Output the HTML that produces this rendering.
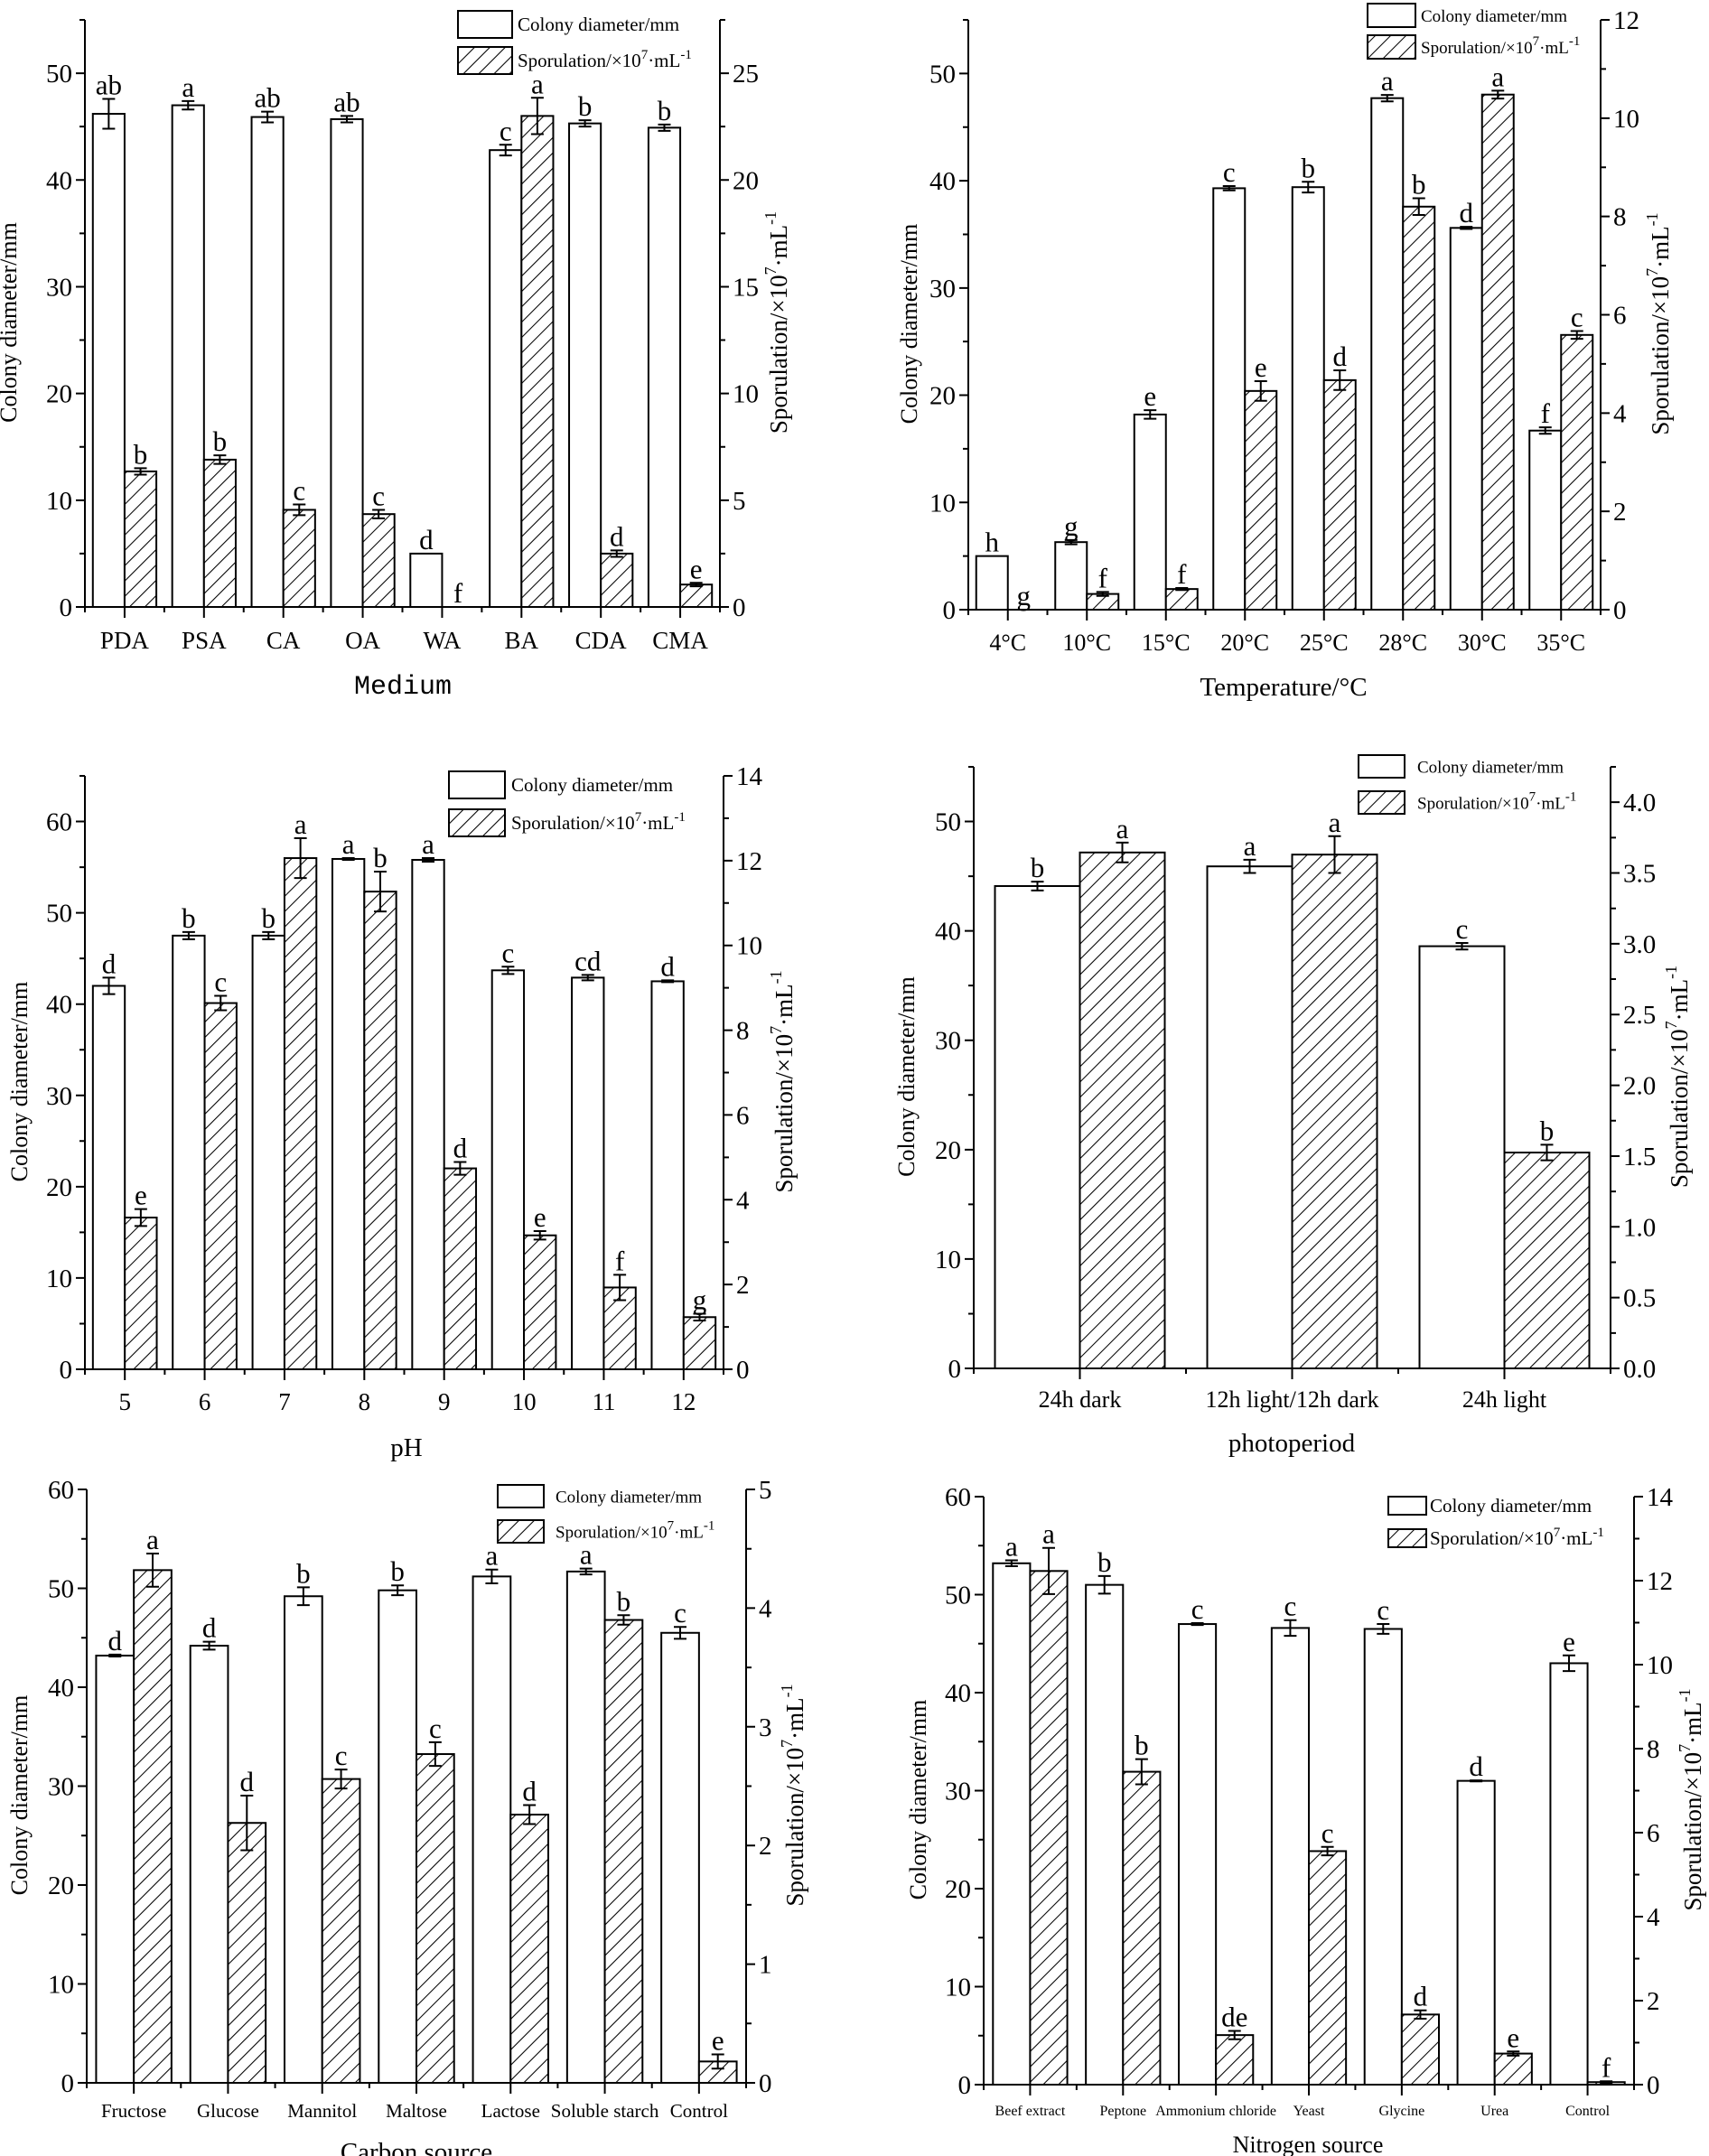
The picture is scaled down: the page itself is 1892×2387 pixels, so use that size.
<!DOCTYPE html>
<html><head><meta charset="utf-8">
<style>
html,body{margin:0;padding:0;background:#fff;}
svg{display:block;}
text{font-family:"Liberation Serif",serif;fill:#000;}
</style></head>
<body>
<svg id="fig" width="1892" height="2387" viewBox="0 0 1892 2387" xmlns="http://www.w3.org/2000/svg">
<defs>
<pattern id="hatch" patternUnits="userSpaceOnUse" width="12" height="12" patternTransform="rotate(45)">
<rect width="12" height="12" fill="#fff"/>
<line x1="0" y1="0" x2="0" y2="12" stroke="#000" stroke-width="2.1"/>
</pattern>
</defs>
</svg>
<script>
// ---- Panel A: Medium ----
const medCats=["PDA","PSA","CA","OA","WA","BA","CDA","CMA"];
const medColony=[46.2,47.0,45.9,45.7,5.0,42.8,45.3,44.9];
const medColonyErr=[1.4,0.4,0.5,0.3,0,0.5,0.3,0.3];
const medColonyLetters=["ab","a","ab","ab","d","c","b","b"];
const medSpor=[6.35,6.9,4.55,4.35,0,23.0,2.5,1.05];
const medSporErr=[0.15,0.2,0.25,0.2,0,0.85,0.15,0.08];
const medSporLetters=["b","b","c","c","f","a","d","e"];
// ---- Panel B: Temperature ----
const tempCats=["4°C","10°C","15°C","20°C","25°C","28°C","30°C","35°C"];
const tempColony=[5.0,6.3,18.2,39.3,39.4,47.7,35.6,16.7];
const tempColonyErr=[0,0.2,0.4,0.2,0.5,0.3,0.1,0.3];
const tempColonyLetters=["h","g","e","c","b","a","d","f"];
const tempSpor=[0,0.32,0.42,4.45,4.67,8.2,10.48,5.59];
const tempSporErr=[0,0.04,0.02,0.2,0.2,0.17,0.08,0.08];
const tempSporLetters=["g","f","f","e","d","b","a","c"];
// ---- Panel C: pH ----
const phCats=["5","6","7","8","9","10","11","12"];
const phColony=[42.0,47.5,47.5,55.9,55.8,43.7,42.9,42.5];
const phColonyErr=[0.9,0.4,0.4,0.1,0.2,0.4,0.3,0.1];
const phColonyLetters=["d","b","b","a","a","c","cd","d"];
const phSpor=[3.58,8.64,12.06,11.27,4.74,3.16,1.93,1.23];
const phSporErr=[0.2,0.17,0.47,0.47,0.15,0.1,0.3,0.08];
const phSporLetters=["e","c","a","b","d","e","f","g"];
// ---- Panel D: photoperiod ----
const photoCats=["24h dark","12h light/12h dark","24h light"];
const photoColony=[44.1,45.9,38.6];
const photoColonyErr=[0.4,0.6,0.3];
const photoColonyLetters=["b","a","c"];
const photoSpor=[3.645,3.63,1.525];
const photoSporErr=[0.07,0.13,0.055];
const photoSporLetters=["a","a","b"];
// ---- Panel E: Carbon source ----
const carbCats=["Fructose","Glucose","Mannitol","Maltose","Lactose","Soluble starch","Control"];
const carbColony=[43.2,44.2,49.2,49.8,51.2,51.7,45.5];
const carbColonyErr=[0.1,0.4,0.9,0.5,0.7,0.3,0.6];
const carbColonyLetters=["d","d","b","b","a","a","c"];
const carbSpor=[4.32,2.19,2.56,2.77,2.26,3.90,0.18];
const carbSporErr=[0.14,0.23,0.08,0.1,0.08,0.04,0.06];
const carbSporLetters=["a","d","c","c","d","b","e"];
// ---- Panel F: Nitrogen source ----
const nitCats=["Beef extract","Peptone","Ammonium chloride","Yeast","Glycine","Urea","Control"];
const nitColony=[53.2,51.0,47.0,46.6,46.5,31.0,43.0];
const nitColonyErr=[0.3,0.9,0.1,0.8,0.5,0.05,0.8];
const nitColonyLetters=["a","b","c","c","c","d","e"];
const nitSpor=[12.23,7.45,1.18,5.56,1.67,0.74,0.06];
const nitSporErr=[0.55,0.3,0.1,0.1,0.1,0.05,0.02];
const nitSporLetters=["a","b","de","c","d","e","f"];

const svg=document.getElementById('fig');
const NS="http://www.w3.org/2000/svg";
function mk(tag,attrs,parent){const e=document.createElementNS(NS,tag);for(const k in attrs)e.setAttribute(k,attrs[k]);(parent||svg).appendChild(e);return e;}

function fmt(v,dec){return dec?v.toFixed(dec):String(Math.round(v));}

function panel(p){
  const g=mk('g',{});
  
  
  const yL=v=>p.y0-(v/p.lmax)*(p.y0-p.yTop);
  const yR=v=>p.y0-(v/p.rmax)*(p.y0-p.yTop);
  const n=p.cats.length, band=(p.x1-p.x0)/n, bw=band*0.4;
  const cx=i=>p.x0+band*(i+0.5);
  for(let i=0;i<n;i++){
    const h1=p.y0-yL(p.colony[i]);
    const r1=mk('rect',{x:cx(i)-bw,y:yL(p.colony[i]),width:bw,height:h1,fill:'#fff',stroke:'#000','stroke-width':2},g);
    
    
    const h2=p.y0-yR(p.spor[i]);
    if(p.spor[i]>0){
      const r2=mk('rect',{x:cx(i),y:yR(p.spor[i]),width:bw,height:h2,fill:'url(#hatch)',stroke:'#000','stroke-width':2},g);
      
      
    }
    const eb=(x,v,e,yf)=>{
      if(e<=0) return yf(v);
      const t=yf(v+e),b=yf(Math.max(0,v-e));
      const pe=mk('path',{d:`M${x},${t}V${b}M${x-7},${t}H${x+7}M${x-7},${b}H${x+7}`,stroke:'#000','stroke-width':2,fill:'none'},g);
      
      
      return t;
    };
    const t1=eb(cx(i)-bw/2,p.colony[i],p.colonyErr[i],yL);
    const t2=eb(cx(i)+bw/2,p.spor[i],p.sporErr[i],yR);
    const l1=mk('text',{x:cx(i)-bw/2,y:t1-5,'font-size':p.lf,'text-anchor':'middle'},g);
    l1.textContent=p.colonyLetters[i];
    
    
    const l2=mk('text',{x:cx(i)+bw/2,y:t2-5,'font-size':p.lf,'text-anchor':'middle'},g);
    l2.textContent=p.sporLetters[i];
    
    
  }
  const ax=mk('path',{d:`M${p.x0},${p.yTop}V${p.y0}H${p.x1}V${p.yTop}`,stroke:'#000','stroke-width':2,fill:'none'},g);
  
  
  let d='';
  for(let v=0;v<=p.lmax+1e-9;v+=p.lminor){const y=yL(v);const major=Math.abs(v/p.lstep-Math.round(v/p.lstep))<1e-6;d+=`M${p.x0},${y}H${p.x0-(major?10:6)}`;
    if(major){const t=mk('text',{x:p.x0-14,y:y+10,'font-size':p.tf,'text-anchor':'end'},g);t.textContent=fmt(v,0);
      
      }}
  for(let v=0;v<=p.rmax+1e-9;v+=p.rminor){const y=yR(v);const major=Math.abs(v/p.rstep-Math.round(v/p.rstep))<1e-6;d+=`M${p.x1},${y}H${p.x1+(major?10:6)}`;
    if(major){const t=mk('text',{x:p.x1+14,y:y+10,'font-size':p.tf,'text-anchor':'start'},g);t.textContent=fmt(v,p.rdec);
      
      }}
  for(let i=0;i<=n;i++){const x=p.x0+band*i;d+=`M${x},${p.y0}V${p.y0+6}`;}
  for(let i=0;i<n;i++){d+=`M${cx(i)},${p.y0}V${p.y0+12}`;
    const t=mk('text',{x:cx(i),y:p.catY,'font-size':p.cf,'text-anchor':'middle'},g);t.textContent=p.cats[i];
    
    }
  const tk=mk('path',{d:d,stroke:'#000','stroke-width':2,fill:'none'},g);
  
  
  const midY=(p.yTop+p.y0)/2+10;
  const lt=mk('text',{x:p.lx,y:midY,'font-size':26,'text-anchor':'middle','dominant-baseline':'middle',transform:`rotate(-90 ${p.lx} ${midY})`},g);
  lt.textContent='Colony diameter/mm';
  
  
  const rt=mk('text',{x:p.rx,y:midY,'font-size':27,'text-anchor':'middle','dominant-baseline':'middle',transform:`rotate(-90 ${p.rx} ${midY})`},g);
  rt.innerHTML='Sporulation/×10<tspan dy="-10" font-size="18">7</tspan><tspan dy="10">·mL</tspan><tspan dy="-10" font-size="18">-1</tspan>';
  
  
  const xt=mk('text',{x:p.xtX,y:p.xtY,'font-size':p.xtF||29,'text-anchor':'middle'},g);
  if(p.mono) xt.setAttribute('style','font-family:"Liberation Mono",monospace');
  xt.textContent=p.xtitle;
  
  
  const L=p.leg;
  const lb1=mk('rect',{x:L.x,y:L.y1,width:L.w,height:L.h,fill:'#fff',stroke:'#000','stroke-width':2},g);
  
  
  const lb2=mk('rect',{x:L.x,y:L.y2,width:L.w,height:L.h,fill:'url(#hatch)',stroke:'#000','stroke-width':2},g);
  
  
  const lt1=mk('text',{x:L.tx,y:L.y1+L.h/2+7,'font-size':L.f},g);
  lt1.textContent='Colony diameter/mm';
  
  
  const lt2=mk('text',{x:L.tx,y:L.y2+L.h/2+7,'font-size':L.f},g);
  lt2.innerHTML='Sporulation/×10<tspan dy="-9" font-size="15">7</tspan><tspan dy="9">·mL</tspan><tspan dy="-9" font-size="15">-1</tspan>';
  
  
}

panel({name:'medium',x0:94,x1:797,yTop:22,y0:672,lmax:55,lstep:10,lminor:5,rmax:27.5,rstep:5,rminor:2.5,rdec:0,
  cats:medCats,colony:medColony,colonyErr:medColonyErr,colonyLetters:medColonyLetters,spor:medSpor,sporErr:medSporErr,sporLetters:medSporLetters,
  lf:31,tf:29,cf:27,catY:718,lx:12,rx:865,xtitle:'Medium',xtX:446,xtY:768,mono:true,xtF:30,
  leg:{x:507,y1:12,y2:52,w:60,h:30,tx:573,f:21}});
panel({name:'temperature',x0:1072,x1:1772,yTop:22,y0:675,lmax:55,lstep:10,lminor:5,rmax:12,rstep:2,rminor:1,rdec:0,
  cats:tempCats,colony:tempColony,colonyErr:tempColonyErr,colonyLetters:tempColonyLetters,spor:tempSpor,sporErr:tempSporErr,sporLetters:tempSporLetters,
  lf:31,tf:29,cf:26,catY:720,lx:1009,rx:1841,xtitle:'Temperature/°C',xtX:1421,xtY:770,
  leg:{x:1514,y1:4,y2:39,w:53,h:26,tx:1573,f:19}});
panel({name:'ph',x0:94,x1:801,yTop:859,y0:1516,lmax:65,lstep:10,lminor:5,rmax:14,rstep:2,rminor:1,rdec:0,
  cats:phCats,colony:phColony,colonyErr:phColonyErr,colonyLetters:phColonyLetters,spor:phSpor,sporErr:phSporErr,sporLetters:phSporLetters,
  lf:31,tf:29,cf:27,catY:1561,lx:24,rx:871,xtitle:'pH',xtX:450,xtY:1612,
  leg:{x:497,y1:854,y2:896,w:62,h:30,tx:566,f:21}});
panel({name:'photoperiod',x0:1078,x1:1783,yTop:849,y0:1515,lmax:55,lstep:10,lminor:5,rmax:4.25,rstep:0.5,rminor:0.25,rdec:1,
  cats:photoCats,colony:photoColony,colonyErr:photoColonyErr,colonyLetters:photoColonyLetters,spor:photoSpor,sporErr:photoSporErr,sporLetters:photoSporLetters,
  lf:31,tf:29,cf:26,catY:1558,lx:1006,rx:1862,xtitle:'photoperiod',xtX:1430,xtY:1607,
  leg:{x:1504,y1:836,y2:876,w:51,h:25,tx:1569,f:19}});
panel({name:'carbon-source',x0:96,x1:826,yTop:1649,y0:2306,lmax:60,lstep:10,lminor:5,rmax:5,rstep:1,rminor:0.5,rdec:0,
  cats:carbCats,colony:carbColony,colonyErr:carbColonyErr,colonyLetters:carbColonyLetters,spor:carbSpor,sporErr:carbSporErr,sporLetters:carbSporLetters,
  lf:31,tf:29,cf:21,catY:2344,lx:24,rx:883,xtitle:'Carbon source',xtX:461,xtY:2392,
  leg:{x:551,y1:1644,y2:1683,w:51,h:25,tx:615,f:19}});
panel({name:'nitrogen-source',x0:1089,x1:1809,yTop:1657,y0:2308,lmax:60,lstep:10,lminor:5,rmax:14,rstep:2,rminor:1,rdec:0,
  cats:nitCats,colony:nitColony,colonyErr:nitColonyErr,colonyLetters:nitColonyLetters,spor:nitSpor,sporErr:nitSporErr,sporLetters:nitSporLetters,
  lf:31,tf:29,cf:16,catY:2342,lx:1019,rx:1877,xtitle:'Nitrogen source',xtX:1448,xtY:2383,xtF:26,
  leg:{x:1537,y1:1657,y2:1693,w:42,h:20,tx:1583,f:21}});
</script>
</body></html>
